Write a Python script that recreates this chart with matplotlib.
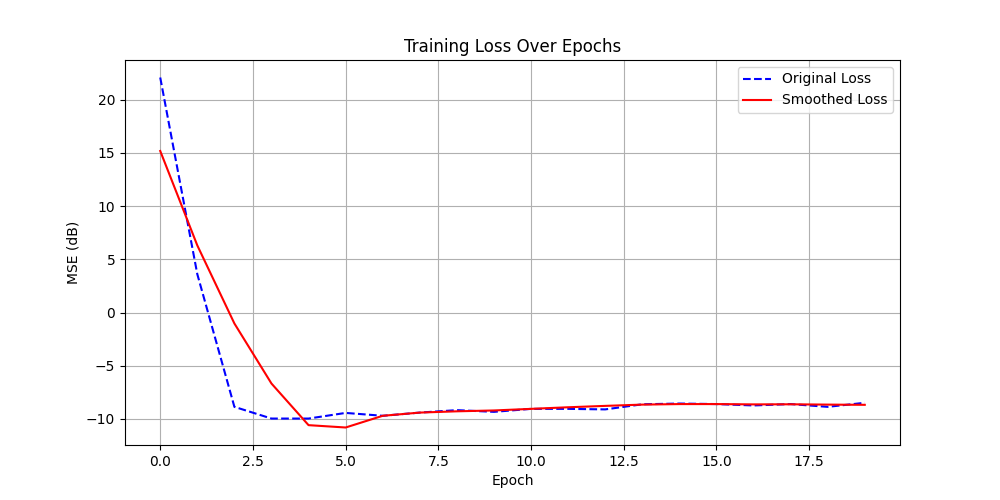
import numpy as np
import matplotlib
matplotlib.use("Agg")
import matplotlib.pyplot as plt

# values
epochs = np.arange(20)
original_loss = [22.07, 3.6, -8.86, -9.96, -9.96, -9.43, -9.7, -9.4, -9.17, -9.33,
                 -9.05, -9.05, -9.1, -8.62, -8.55, -8.6, -8.73, -8.6, -8.86, -8.48]
smoothed_loss = [15.17, 6.3, -1.03, -6.67, -10.58, -10.8, -9.7, -9.4, -9.28, -9.2,
                 -9.05, -8.9, -8.77, -8.65, -8.6, -8.6, -8.63, -8.62, -8.65, -8.67]

plt.figure(figsize=(10, 5))
plt.plot(epochs, original_loss, 'b--', label='Original Loss')
plt.plot(epochs, smoothed_loss, 'r-', label='Smoothed Loss')
plt.title('Training Loss Over Epochs')
plt.xlabel('Epoch')
plt.ylabel('MSE (dB)')
plt.legend()
plt.grid(True)
plt.savefig('out.png', dpi=100)
